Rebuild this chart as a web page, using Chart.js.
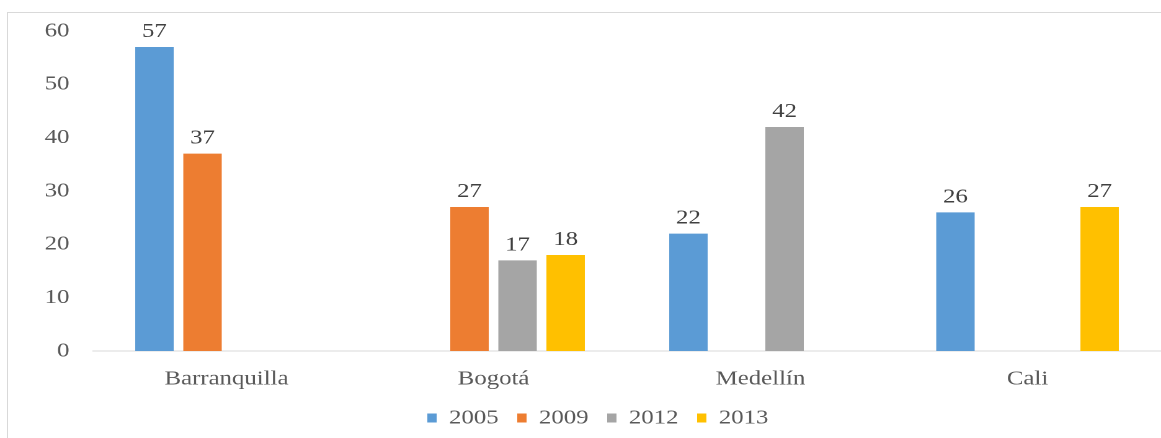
<!DOCTYPE html>
<html>
<head>
<meta charset="utf-8">
<script src="https://cdn.jsdelivr.net/npm/chart.js@4"></script>
<style>
  html, body { margin: 0; padding: 0; background: #fff; overflow: hidden; }
  body { width: 1161px; height: 438px; position: relative; }
  #frame { position: absolute; left: 7px; top: 12px; width: 1200px; height: 500px; border: 1px solid #d9d9d9; }
  /* the original picture is stretched sideways, so the chart is drawn narrower and widened */
  #wrap { position: absolute; left: 0; top: 0; width: 936px; height: 438px; transform: scaleX(1.2404); transform-origin: 0 0; }
</style>
</head>
<body>
<div id="frame"></div>
<div id="wrap"><canvas id="city_chart"></canvas></div>
<script>
const categories = ["Barranquilla", "Bogotá", "Medellín", "Cali"];
const years = ["2005", "2009", "2012", "2013"];
const values2005 = [57, null, 22, 26];
const values2009 = [37, 27, null, null];
const values2012 = [null, 17, 42, null];
const values2013 = [null, 18, null, 27];
const colors = ["#5b9bd5", "#ed7d31", "#a5a5a5", "#ffc000"];

const serif = "'Liberation Serif', 'Times New Roman', serif";

// writes the value above each bar
const barLabels = {
    id: 'barLabels',
    afterDatasetsDraw(chart) {
        const ctx = chart.ctx;
        ctx.save();
        ctx.font = "20px " + serif;
        ctx.fillStyle = "#404040";
        ctx.textAlign = "center";
        ctx.textBaseline = "alphabetic";
        chart.data.datasets.forEach((ds, i) => {
            chart.getDatasetMeta(i).data.forEach((bar, j) => {
                if (ds.data[j] == null) return;
                ctx.fillText(ds.data[j], bar.x, bar.y - 10);
            });
        });
        ctx.restore();
    }
};

function init() {
    const series = [values2005, values2009, values2012, values2013];
    const data = {
        labels: categories,
        datasets: years.map((y, i) => ({
            label: y,
            data: series[i],
            backgroundColor: colors[i],
            categoryPercentage: 0.72,
            barPercentage: 0.8
        }))
    };

    const config = {
        type: 'bar',
        data: data,
        options: {
            responsive: true,
            maintainAspectRatio: false,
            animation: false,
            devicePixelRatio: 2,
            layout: { padding: { top: 27, left: 28, right: 0, bottom: 0 } },
            plugins: {
                legend: {
                    position: 'bottom',
                    labels: {
                        boxWidth: 7.5,
                        boxHeight: 9,
                        padding: 15,
                        color: "#595959",
                        font: { family: serif, size: 20 }
                    }
                },
                tooltip: { enabled: false }
            },
            scales: {
                x: {
                    grid: { display: false, drawTicks: false },
                    border: { display: true, color: "#d9d9d9", width: 1 },
                    ticks: { color: "#595959", padding: 16, font: { family: serif, size: 20 } },
                    afterFit(scale) { scale.height = 42; }
                },
                y: {
                    min: 0,
                    max: 60,
                    grid: { display: false, drawTicks: false },
                    border: { display: false },
                    ticks: { stepSize: 10, color: "#595959", padding: 19, font: { family: serif, size: 20 } },
                    afterFit(scale) { scale.width = 47; }
                }
            }
        },
        plugins: [barLabels]
    };

    return new Chart(document.getElementById("city_chart"), config);
}

init();
</script>
</body>
</html>
